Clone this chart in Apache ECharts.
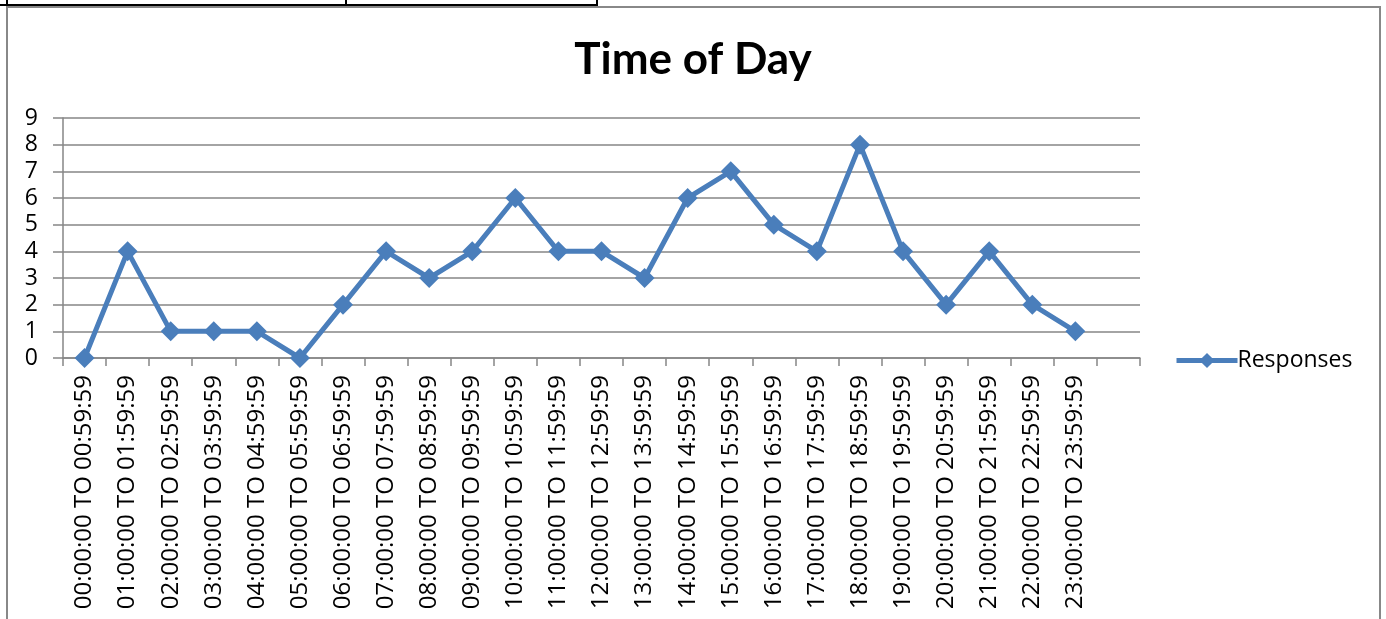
<!DOCTYPE html>
<html><head><meta charset="utf-8">
<script src="https://cdn.jsdelivr.net/npm/echarts@6/dist/echarts.min.js"></script>
<style>html,body{margin:0;padding:0;background:#fff}#c{width:1386px;height:619px}</style>
</head><body><div id="c"></div>
<script>
const categories = ["00:00:00 TO 00:59:59","01:00:00 TO 01:59:59","02:00:00 TO 02:59:59","03:00:00 TO 03:59:59","04:00:00 TO 04:59:59","05:00:00 TO 05:59:59","06:00:00 TO 06:59:59","07:00:00 TO 07:59:59","08:00:00 TO 08:59:59","09:00:00 TO 09:59:59","10:00:00 TO 10:59:59","11:00:00 TO 11:59:59","12:00:00 TO 12:59:59","13:00:00 TO 13:59:59","14:00:00 TO 14:59:59","15:00:00 TO 15:59:59","16:00:00 TO 16:59:59","17:00:00 TO 17:59:59","18:00:00 TO 18:59:59","19:00:00 TO 19:59:59","20:00:00 TO 20:59:59","21:00:00 TO 21:59:59","22:00:00 TO 22:59:59","23:00:00 TO 23:59:59",""];
const responses = [0,4,1,1,1,0,2,4,3,4,6,4,4,3,6,7,5,4,8,4,2,4,2,1];
const seriesName = "Responses";
const titleText = "Time of Day";

const chart = echarts.init(document.getElementById('c'), null, {renderer:'canvas'});
const font = '"Open Sans", sans-serif';
const blue = '#4a7ebb';
chart.setOption({
  animation:false,
  textStyle:{fontFamily:font},
  title:{text:titleText,left:'center',top:33,textStyle:{fontFamily:'Lato, sans-serif',fontSize:44,fontWeight:'bold',color:'#000'}},
  legend:{show:true,left:1169,top:344,itemWidth:61,itemHeight:19,itemGap:0,
    lineStyle:{width:5,color:blue},
    textStyle:{fontFamily:font,fontSize:23,color:'#000',padding:[0,0,0,-5]},data:[seriesName]},
  grid:{left:63,right:246,top:118,bottom:261,containLabel:false},
  xAxis:{type:'category',data:categories,boundaryGap:true,
    axisLine:{lineStyle:{color:'#868686',width:1.5}},
    axisTick:{show:true,length:8,interval:0,lineStyle:{color:'#868686',width:1.5}},
    axisLabel:{rotate:90,interval:0,margin:17,fontFamily:font,fontSize:24,color:'#000'},
    splitLine:{show:false}},
  yAxis:{type:'value',min:0,max:9,interval:1,
    axisLine:{show:true,lineStyle:{color:'#868686',width:1.5}},
    axisTick:{show:true,inside:false,length:10,lineStyle:{color:'#868686',width:1.5}},
    axisLabel:{margin:25,fontFamily:font,fontSize:23,color:'#000'},
    splitLine:{show:true,lineStyle:{color:'#868686',width:1.5}}},
  series:[{name:seriesName,type:'line',data:responses,symbol:'diamond',symbolSize:20,
    lineStyle:{color:blue,width:5},itemStyle:{color:blue}}],
  graphic:[
    {type:'rect',shape:{x:7,y:7,width:1373,height:700},style:{fill:'none',stroke:'#888',lineWidth:2},silent:true},
    {type:'line',shape:{x1:0,y1:5,x2:598,y2:5},style:{stroke:'#000',lineWidth:2}},
    {type:'line',shape:{x1:7,y1:0,x2:7,y2:5},style:{stroke:'#000',lineWidth:2}},
    {type:'line',shape:{x1:346,y1:0,x2:346,y2:5},style:{stroke:'#000',lineWidth:2}},
    {type:'line',shape:{x1:597,y1:0,x2:597,y2:5},style:{stroke:'#000',lineWidth:2}}
  ]
});
</script></body></html>
